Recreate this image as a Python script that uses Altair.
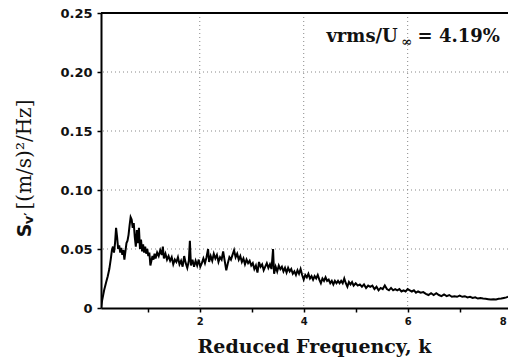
import altair as alt
import pandas as pd

# ---- data ----
k_vals = [0.10, 0.12, 0.16, 0.20, 0.23, 0.26, 0.29, 0.31, 0.33, 0.35, 0.37, 0.39, 0.41, 0.43, 0.45,
          0.47, 0.49, 0.51, 0.53, 0.55, 0.57, 0.59, 0.61, 0.63, 0.65, 0.67, 0.69, 0.71, 0.73, 0.75,
          0.77, 0.79, 0.81, 0.83, 0.85, 0.87, 0.89, 0.91, 0.93, 0.95, 0.97, 0.99, 1.01, 1.03, 1.05,
          1.07, 1.09, 1.11, 1.13, 1.15, 1.18, 1.21, 1.24, 1.27, 1.29, 1.31, 1.34, 1.37, 1.40, 1.43,
          1.46, 1.49, 1.52, 1.55, 1.58, 1.61, 1.64, 1.67, 1.70, 1.73, 1.76, 1.79, 1.81, 1.83, 1.86,
          1.89, 1.92, 1.95, 1.98, 2.01, 2.04, 2.07, 2.10, 2.13, 2.16, 2.18, 2.21, 2.24, 2.27, 2.30,
          2.33, 2.36, 2.39, 2.42, 2.45, 2.48, 2.51, 2.54, 2.57, 2.60, 2.63, 2.66, 2.69, 2.72, 2.75,
          2.78, 2.81, 2.84, 2.87, 2.90, 2.93, 2.96, 2.99, 3.02, 3.05, 3.08, 3.11, 3.14, 3.17, 3.20,
          3.23, 3.26, 3.29, 3.32, 3.35, 3.38, 3.41, 3.43, 3.46, 3.49, 3.52, 3.55, 3.58, 3.61, 3.64,
          3.67, 3.70, 3.73, 3.76, 3.79, 3.82, 3.85, 3.88, 3.91, 3.94, 3.97, 4.00, 4.03, 4.06, 4.09,
          4.12, 4.15, 4.18, 4.21, 4.24, 4.27, 4.30, 4.33, 4.36, 4.39, 4.42, 4.45, 4.48, 4.51, 4.54,
          4.57, 4.60, 4.63, 4.66, 4.69, 4.72, 4.75, 4.78, 4.81, 4.84, 4.87, 4.90, 4.93, 4.96, 5.00,
          5.04, 5.08, 5.12, 5.16, 5.20, 5.24, 5.28, 5.32, 5.36, 5.40, 5.44, 5.48, 5.52, 5.56, 5.60,
          5.64, 5.68, 5.72, 5.76, 5.80, 5.84, 5.88, 5.92, 5.96, 6.00, 6.04, 6.08, 6.12, 6.16, 6.20,
          6.25, 6.30, 6.35, 6.40, 6.45, 6.50, 6.55, 6.60, 6.65, 6.70, 6.75, 6.80, 6.85, 6.90, 6.95,
          7.00, 7.05, 7.10, 7.15, 7.20, 7.25, 7.30, 7.35, 7.40, 7.45, 7.50, 7.55, 7.60, 7.65, 7.70,
          7.75, 7.80, 7.85, 7.90, 7.93]
s_vals = [0.000, 0.006, 0.015, 0.022, 0.027, 0.033, 0.042, 0.049, 0.052, 0.047, 0.055, 0.068, 0.060, 0.050, 0.053,
          0.047, 0.051, 0.045, 0.049, 0.041, 0.048, 0.055, 0.057, 0.062, 0.070, 0.077, 0.075, 0.068, 0.072, 0.060,
          0.052, 0.066, 0.055, 0.068, 0.050, 0.058, 0.048, 0.054, 0.047, 0.052, 0.046, 0.050, 0.044, 0.047, 0.036,
          0.040, 0.044, 0.041, 0.046, 0.042, 0.047, 0.044, 0.049, 0.045, 0.052, 0.042, 0.046, 0.041, 0.044, 0.040,
          0.043, 0.037, 0.041, 0.039, 0.043, 0.037, 0.040, 0.035, 0.044, 0.038, 0.034, 0.040, 0.057, 0.036, 0.041,
          0.035, 0.040, 0.036, 0.041, 0.035, 0.038, 0.042, 0.038, 0.043, 0.050, 0.039, 0.044, 0.040, 0.046, 0.042,
          0.045, 0.039, 0.043, 0.041, 0.048, 0.040, 0.032, 0.038, 0.043, 0.041, 0.045, 0.049, 0.043, 0.046, 0.041,
          0.044, 0.039, 0.042, 0.037, 0.041, 0.038, 0.040, 0.036, 0.038, 0.033, 0.036, 0.030, 0.039, 0.035, 0.037,
          0.032, 0.035, 0.038, 0.034, 0.037, 0.033, 0.050, 0.029, 0.035, 0.031, 0.036, 0.033, 0.035, 0.031, 0.034,
          0.030, 0.034, 0.031, 0.033, 0.029, 0.031, 0.028, 0.032, 0.029, 0.033, 0.028, 0.024, 0.028, 0.026, 0.029,
          0.025, 0.027, 0.024, 0.027, 0.025, 0.028, 0.024, 0.021, 0.025, 0.023, 0.026, 0.023, 0.024, 0.021, 0.023,
          0.020, 0.023, 0.021, 0.023, 0.021, 0.023, 0.021, 0.025, 0.021, 0.018, 0.022, 0.020, 0.022, 0.019, 0.021,
          0.019, 0.020, 0.018, 0.020, 0.017, 0.019, 0.018, 0.019, 0.016, 0.018, 0.015, 0.017, 0.016, 0.019, 0.016,
          0.015, 0.017, 0.015, 0.016, 0.015, 0.016, 0.014, 0.015, 0.014, 0.016, 0.015, 0.014, 0.015, 0.013, 0.014,
          0.013, 0.0135, 0.012, 0.011, 0.0125, 0.011, 0.0125, 0.011, 0.010, 0.0115, 0.010, 0.011, 0.0095, 0.010, 0.0095,
          0.0105, 0.0095, 0.010, 0.009, 0.0095, 0.0085, 0.009, 0.008, 0.0085, 0.008, 0.0078, 0.0075, 0.0072, 0.0075, 0.0073,
          0.0078, 0.008, 0.0085, 0.009, 0.0095]

x_grid = [2, 4, 6]
y_grid = [0.05, 0.10, 0.15, 0.20]
x_ticks = [1, 2, 3, 4, 5, 6, 7]
y_ticks = [0, 0.025, 0.05, 0.075, 0.10, 0.125, 0.15, 0.175, 0.20, 0.225, 0.25]
x_label_extra = [8]

annot_main = "vrms/U"
annot_sub = "\u221e"
annot_rest = "= 4.19%"
annot_k = [5.81, 5.98, 6.19]
annot_s = [0.2255, 0.222, 0.2255]

# y-axis title pieces: "S", subscript "v'", and the unit
ytitle_txt = ["S", "v\u2032", "[(m/s)\u00b2/Hz]"]
ytitle_k = [-1.36, -1.29, -1.36]
ytitle_s = [0.060, 0.071, 0.0835]

XDOM = [0.1, 7.93]
YDOM = [0, 0.25]

df = pd.DataFrame({"k": k_vals, "S": s_vals})

xs = alt.Scale(domain=XDOM, nice=False, zero=False)
ys = alt.Scale(domain=YDOM, nice=False)

x_axis = alt.Axis(values=x_ticks, labelExpr="datum.value % 2 == 0 ? datum.label : ''",
                  grid=False, title="Reduced Frequency, k", titleFont="DejaVu Serif",
                  titleFontSize=19, titleFontWeight="bold", titleColor="#111",
                  titlePadding=11, titleX=213, titleAnchor="middle", titleAlign="center",
                  labelFont="DejaVu Sans", labelFontWeight="bold",
                  labelFontSize=10, labelColor="#111", labelPadding=4,
                  tickColor="black", tickSize=4, tickWidth=1.5,
                  domainColor="black", domainWidth=2)
y_axis = alt.Axis(values=y_ticks,
                  labelExpr="datum.value == 0 ? '0' : (abs(datum.value*20 - round(datum.value*20)) < 0.001 ? format(datum.value, '.2f') : '')",
                  grid=False, title=None, labelFont="DejaVu Sans", labelFontWeight="bold",
                  labelFontSize=13, labelColor="#111", labelPadding=5,
                  tickColor="black", tickSize=4, tickWidth=1.5,
                  domainColor="black", domainWidth=2)

line = alt.Chart(df).mark_line(color="black", strokeWidth=2, clip=True).encode(
    x=alt.X("k:Q", scale=xs, axis=x_axis),
    y=alt.Y("S:Q", scale=ys, axis=y_axis),
)

vgrid = alt.Chart(pd.DataFrame({"k": x_grid})).mark_rule(
    color="#888", strokeDash=[1, 3], strokeWidth=1
).encode(x=alt.X("k:Q", scale=xs))

hgrid = alt.Chart(pd.DataFrame({"S": y_grid})).mark_rule(
    color="#888", strokeDash=[1, 3], strokeWidth=1
).encode(y=alt.Y("S:Q", scale=ys))

top = alt.Chart(pd.DataFrame({"S": [YDOM[1]]})).mark_rule(
    color="black", strokeWidth=2
).encode(y=alt.Y("S:Q", scale=ys))

eight = alt.Chart(pd.DataFrame({"k": x_label_extra, "S": [0], "t": ["8"]})).mark_text(
    font="DejaVu Sans", fontWeight="bold", fontSize=10, color="#111",
    baseline="top", align="right", dx=-5, dy=9, clip=False
).encode(x=alt.X("k:Q", scale=xs), y=alt.Y("S:Q", scale=ys), text="t:N")

ann_df = pd.DataFrame({"k": annot_k, "S": annot_s,
                       "t": [annot_main, annot_sub, annot_rest]})
ann1 = alt.Chart(ann_df.iloc[[0]]).mark_text(
    font="DejaVu Serif", fontWeight="bold", fontSize=18, color="#111",
    align="right", baseline="alphabetic"
).encode(x=alt.X("k:Q", scale=xs), y=alt.Y("S:Q", scale=ys), text="t:N")
ann2 = alt.Chart(ann_df.iloc[[1]]).mark_text(
    font="DejaVu Serif", fontWeight="bold", fontSize=13, color="#111",
    align="center", baseline="alphabetic"
).encode(x=alt.X("k:Q", scale=xs), y=alt.Y("S:Q", scale=ys), text="t:N")
ann3 = alt.Chart(ann_df.iloc[[2]]).mark_text(
    font="DejaVu Serif", fontWeight="bold", fontSize=18, color="#111",
    align="left", baseline="alphabetic"
).encode(x=alt.X("k:Q", scale=xs), y=alt.Y("S:Q", scale=ys), text="t:N")

yt_df = pd.DataFrame({"k": ytitle_k, "S": ytitle_s, "t": ytitle_txt})
yt1 = alt.Chart(yt_df.iloc[[0]]).mark_text(
    font="DejaVu Sans", fontWeight="bold", fontSize=19, color="#111",
    angle=270, align="left", baseline="middle", clip=False
).encode(x=alt.X("k:Q", scale=xs), y=alt.Y("S:Q", scale=ys), text="t:N")
yt1b = alt.Chart(yt_df.iloc[[1]]).mark_text(
    font="DejaVu Sans", fontWeight="bold", fontSize=13, color="#111",
    angle=270, align="left", baseline="middle", clip=False
).encode(x=alt.X("k:Q", scale=xs), y=alt.Y("S:Q", scale=ys), text="t:N")
yt2 = alt.Chart(yt_df.iloc[[2]]).mark_text(
    font="DejaVu Serif", fontSize=20, color="#111",
    angle=270, align="left", baseline="middle", clip=False
).encode(x=alt.X("k:Q", scale=xs), y=alt.Y("S:Q", scale=ys), text="t:N")

chart = alt.layer(vgrid, hgrid, top, line, eight, ann1, ann2, ann3, yt1, yt1b, yt2).properties(
    width=407, height=295,
    autosize=alt.AutoSizeParams(type="none"),
    padding={"left": 101, "top": 13, "right": 0, "bottom": 52},
    background="white",
).configure_view(stroke=None)

chart.save("out.html", embed_options={"renderer": "svg", "actions": False})
